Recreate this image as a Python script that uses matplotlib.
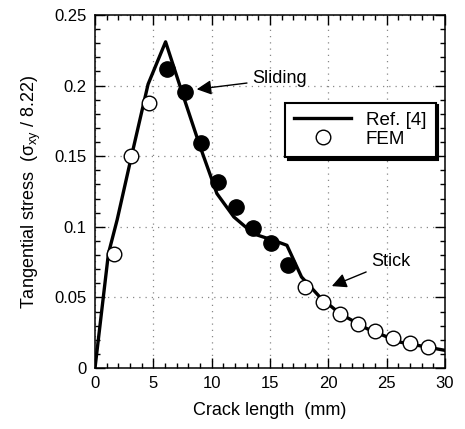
import matplotlib
matplotlib.use("Agg")
import matplotlib.pyplot as plt
from matplotlib.ticker import MultipleLocator, FixedLocator, FixedFormatter

plt.rcParams['font.family'] = ['Liberation Sans', 'DejaVu Sans']

# Ref. [4] analytical curve
ref_x = [0, 1.15, 1.9, 3.1, 4.55, 6.05, 7.45, 9.0, 10.45, 11.9, 13.6, 15.3, 16.45, 17.7, 19.3, 21.0, 23.3, 26.1, 30.0]
ref_y = [0, 0.081, 0.105, 0.149, 0.201, 0.231, 0.1955, 0.157, 0.1235, 0.107, 0.095, 0.0904, 0.0869, 0.0645, 0.050, 0.0385, 0.0279, 0.0184, 0.0125]

# FEM results: stick (open) and sliding (filled)
fem_open_x = [1.6, 3.1, 4.65, 18.0, 19.5, 21.0, 22.5, 24.0, 25.5, 27.0, 28.5]
fem_open_y = [0.0805, 0.150, 0.188, 0.0574, 0.0467, 0.0385, 0.0314, 0.026, 0.0212, 0.0177, 0.0149]
fem_fill_x = [6.15, 7.7, 9.1, 10.5, 12.1, 13.55, 15.1, 16.5]
fem_fill_y = [0.212, 0.1955, 0.159, 0.132, 0.114, 0.099, 0.0885, 0.0727]

x_ticks = [0, 5, 10, 15, 20, 25, 30]
x_labels = ['0', '5', '10', '15', '20', '25', '30']
y_ticks = [0, 0.05, 0.1, 0.15, 0.2, 0.25]
y_labels = ['0', '0.05', '0.1', '0.15', '0.2', '0.25']

fig = plt.figure(figsize=(4.65, 4.29), dpi=100)
ax = fig.add_axes([95/465, 1 - 368/429, 350/465, 353/429])

ax.plot(ref_x, ref_y, color='black', lw=2.4, label='Ref. [4]', zorder=3)
ax.plot(fem_open_x, fem_open_y, 'o', ms=10.5, mfc='white', mec='black', mew=1.0,
        label='FEM', zorder=4)
ax.plot(fem_fill_x, fem_fill_y, 'o', ms=11, mfc='black', mec='black', zorder=4)

ax.set_xlim(0, 30)
ax.set_ylim(0, 0.25)
ax.xaxis.set_major_locator(FixedLocator(x_ticks))
ax.xaxis.set_major_formatter(FixedFormatter(x_labels))
ax.xaxis.set_minor_locator(MultipleLocator(1))
ax.yaxis.set_major_locator(FixedLocator(y_ticks))
ax.yaxis.set_major_formatter(FixedFormatter(y_labels))
ax.yaxis.set_minor_locator(MultipleLocator(0.01))
ax.tick_params(which='both', direction='in', top=True, right=True, labelsize=12, width=1, color='black')
ax.tick_params(which='major', length=7, pad=6)
ax.tick_params(which='minor', length=3.5)
for s in ax.spines.values():
    s.set_linewidth(1.1)

ax.grid(True, which='major', linestyle=(0, (1, 4)), color='#888888', lw=0.9)

ax.set_xlabel('Crack length  (mm)', fontsize=13, labelpad=8)
ax.set_ylabel(r'Tangential stress  ($\mathregular{\sigma_{xy}}$ / 8.22)', fontsize=13, labelpad=8)

leg = ax.legend(loc='upper left', bbox_to_anchor=(0.543, 0.752), fontsize=13.5,
                frameon=True, fancybox=False, shadow={'color': 'black', 'alpha': 1},
                edgecolor='black', handlelength=3.0, borderpad=0.5, labelspacing=0.1,
                borderaxespad=0, framealpha=1, markerfirst=True)
leg.get_frame().set_linewidth(1.5)

ax.annotate('Sliding', xy=(8.72, 0.1974), xytext=(13.5, 0.2047), fontsize=13,
            va='center', ha='left',
            arrowprops=dict(arrowstyle='-|>', color='black', lw=1, mutation_scale=22,
                            shrinkA=2, shrinkB=0))
ax.annotate('Stick', xy=(20.3, 0.058), xytext=(23.7, 0.0753), fontsize=13,
            va='center', ha='left',
            arrowprops=dict(arrowstyle='-|>', color='black', lw=1, mutation_scale=22,
                            shrinkA=2, shrinkB=0))

fig.savefig('out.png', dpi=100)
